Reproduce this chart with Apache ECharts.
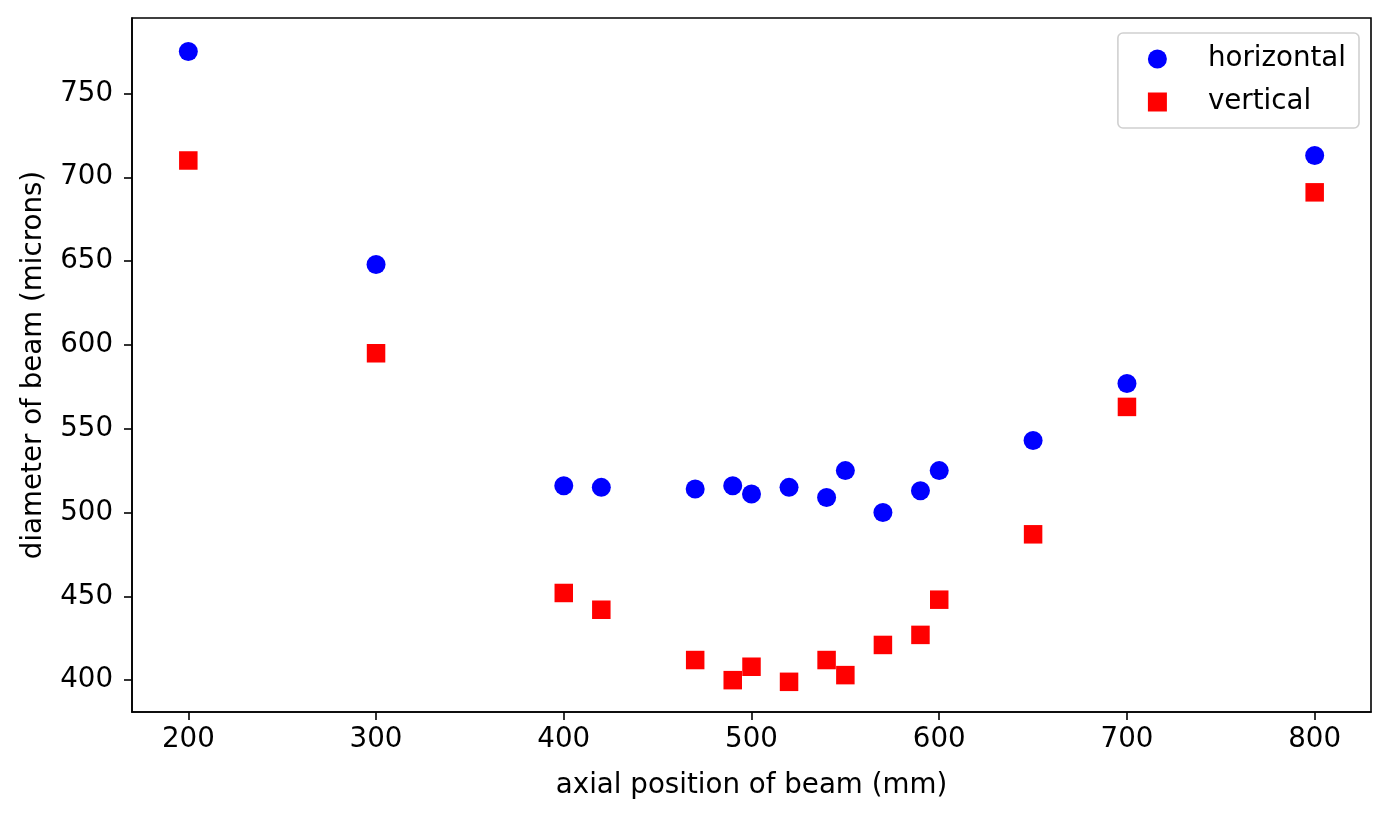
<!DOCTYPE html>
<html><head><meta charset="utf-8">
<script src="https://cdn.jsdelivr.net/npm/echarts@6/dist/echarts.min.js"></script>
<style>html,body{margin:0;padding:0;background:#fff}#c{width:1391px;height:819px}</style>
</head><body><div id="c"></div>
<script>
const positions = [200, 300, 400, 420, 470, 490, 500, 520, 540, 550, 570, 590, 600, 650, 700, 800];
const horizontal = [775, 648, 516, 515, 514, 516, 511, 515, 509, 525, 500, 513, 525, 543, 577, 713];
const vertical = [710, 595, 452, 442, 412, 400, 408, 399, 412, 403, 421, 427, 448, 487, 563, 691];
const xTicks = [200, 300, 400, 500, 600, 700, 800];
const yTicks = [400, 450, 500, 550, 600, 650, 700, 750];
const FONT = 'DejaVu Sans';
const FS = 27.7;
const chart = echarts.init(document.getElementById('c'));
chart.setOption({
  animation: false,
  textStyle: {fontFamily: FONT},
  grid: {left: 132, right: 20, top: 18, bottom: 107, show: true, borderColor: '#000', borderWidth: 1.6, backgroundColor: '#fff'},
  legend: {
    right: 32, top: 33, orient: 'vertical',
    backgroundColor: '#fff', borderColor: '#d0d0d0', borderWidth: 1.6, borderRadius: 5,
    padding: [12, 13, 12, 30], itemGap: 15, itemWidth: 19, itemHeight: 19,
    textStyle: {fontSize: FS, color: '#000', fontFamily: FONT, padding: [0, 0, 0, 36]},
    data: [{name: 'horizontal', icon: 'circle'}, {name: 'vertical', icon: 'rect'}]
  },
  xAxis: {
    type: 'value', min: 170, max: 830,
    name: 'axial position of beam (mm)', nameLocation: 'middle', nameGap: 60,
    nameTextStyle: {fontSize: FS, color: '#000', fontFamily: FONT},
    axisLine: {show: true, lineStyle: {color: '#000', width: 1.6}},
    axisTick: {show: true, length: 8, lineStyle: {color: '#000', width: 1.6}, customValues: xTicks},
    axisLabel: {fontSize: FS, color: '#000', margin: 14, fontFamily: FONT, customValues: xTicks},
    splitLine: {show: false}
  },
  yAxis: {
    type: 'value', min: 381, max: 795,
    name: 'diameter of beam (microns)', nameLocation: 'middle', nameGap: 84, nameRotate: 90,
    nameTextStyle: {fontSize: FS, color: '#000', fontFamily: FONT},
    axisLine: {show: true, lineStyle: {color: '#000', width: 1.6}},
    axisTick: {show: true, length: 8, lineStyle: {color: '#000', width: 1.6}, customValues: yTicks},
    axisLabel: {fontSize: FS, color: '#000', margin: 19, fontFamily: FONT, customValues: yTicks},
    splitLine: {show: false}
  },
  series: [
    {name: 'horizontal', type: 'scatter', symbol: 'circle', symbolSize: 19,
     itemStyle: {color: '#0000ff', opacity: 1}, data: positions.map((x, i) => [x, horizontal[i]])},
    {name: 'vertical', type: 'scatter', symbol: 'rect', symbolSize: 18.5,
     itemStyle: {color: '#ff0000', opacity: 1}, data: positions.map((x, i) => [x, vertical[i]])}
  ]
});
</script></body></html>
